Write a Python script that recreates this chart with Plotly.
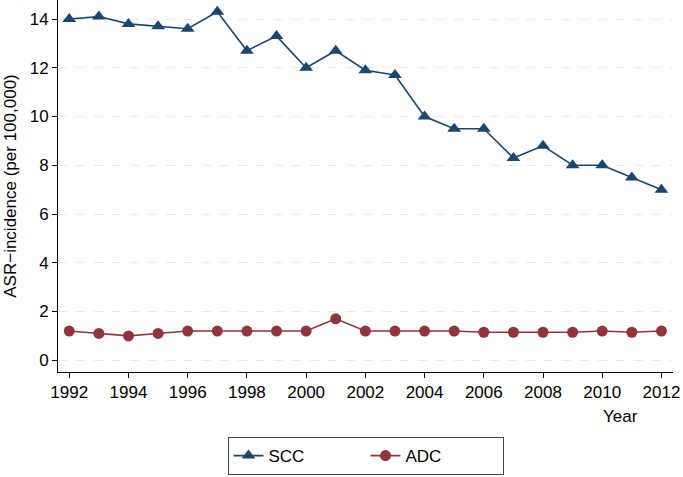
import plotly.graph_objects as go

years = list(range(1992, 2013))
scc = [14.0, 14.1, 13.8, 13.7, 13.6, 14.3, 12.7, 13.3, 12.0, 12.7, 11.9,
       11.7, 10.0, 9.5, 9.5, 8.3, 8.8, 8.0, 8.0, 7.5, 7.0]
adc = [1.2, 1.1, 1.0, 1.1, 1.2, 1.2, 1.2, 1.2, 1.2, 1.7, 1.2,
       1.2, 1.2, 1.2, 1.15, 1.15, 1.15, 1.15, 1.2, 1.15, 1.2]
x_ticks = list(range(1992, 2013, 2))
y_ticks = [0, 2, 4, 6, 8, 10, 12, 14]

NAVY = "#1a476f"
MAROON = "#90353b"
FONT = "Liberation Sans, Arial, Helvetica, sans-serif"

fig = go.Figure()
fig.add_trace(go.Scatter(
    x=years, y=scc, name="SCC", mode="lines+markers",
    line=dict(color=NAVY, width=1.6),
    marker=dict(symbol="triangle-up", size=12, color=NAVY),
))
fig.add_trace(go.Scatter(
    x=years, y=adc, name="ADC", mode="lines+markers",
    line=dict(color=MAROON, width=1.6),
    marker=dict(symbol="circle", size=11, color=MAROON),
))

fig.update_layout(
    width=683, height=477,
    margin=dict(l=58, r=10, t=0, b=105, autoexpand=False),
    paper_bgcolor="white", plot_bgcolor="white",
    font=dict(family=FONT, size=17, color="black"),
    showlegend=True,
    legend=dict(
        orientation="h", x=0.5, xanchor="center", y=-0.277, yanchor="bottom",
        bordercolor="#444444", borderwidth=1, tracegroupgap=0,
        font=dict(size=17), entrywidthmode="pixels", entrywidth=92,
    ),
    xaxis=dict(
        range=[1991.62, 2012.39], tickvals=x_ticks,
        showgrid=False, zeroline=False, automargin=False,
        showline=True, linecolor="black", linewidth=1,
        ticks="outside", ticklen=5, tickcolor="black",
        tickfont=dict(size=17),
    ),
    yaxis=dict(
        range=[-0.48, 14.78], tickvals=y_ticks,
        showgrid=True, gridcolor="#e0eaef", gridwidth=1, griddash="dash",
        zeroline=False, automargin=False,
        showline=True, linecolor="black", linewidth=1,
        ticks="outside", ticklen=5, tickcolor="black",
        tickfont=dict(size=17),
        title=dict(text="ASR\u2212incidence (per 100,000)", font=dict(size=17), standoff=8),
    ),
    annotations=[dict(
        text="Year", xref="paper", yref="paper", x=0.946, y=-0.088,
        xanchor="right", yanchor="top", showarrow=False, font=dict(size=17),
    )],
)

fig.write_html(
    "out.html",
    config={"displayModeBar": False},
    post_script="document.body.style.margin='0';document.body.style.padding='0';",
)
